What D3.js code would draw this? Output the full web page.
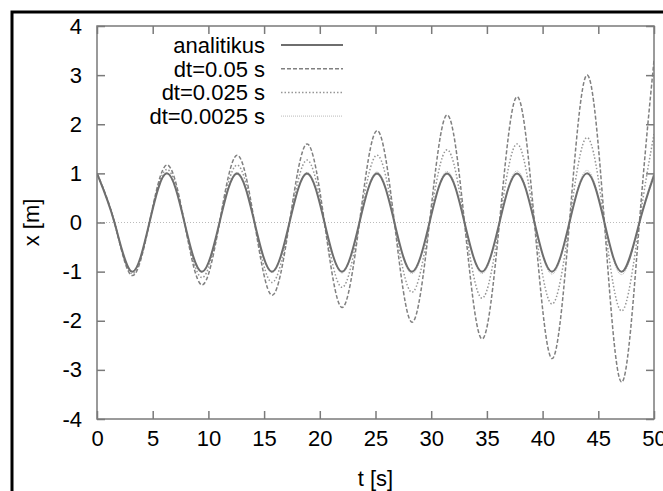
<!DOCTYPE html>
<html>
<head>
  <meta charset="utf-8">
  <title>Harmonikus oszcillator: analitikus es Euler megoldas</title>
  <script src="https://d3js.org/d3.v7.min.js"></script>
  <style>
    body { margin: 0; background: #fff; }
    text { font-family: "Liberation Sans", Arial, sans-serif; fill: #000; }
  </style>
</head>
<body>
  <script type="text/javascript">

    // Time points: extrema and zero crossings, plus the right edge
    var tValues = [0, 1.57, 3.14, 4.71, 6.28, 7.85, 9.42, 11.0, 12.57, 14.14, 15.71,
      17.28, 18.85, 20.42, 21.99, 23.56, 25.13, 26.7, 28.27, 29.85, 31.42, 32.99,
      34.56, 36.13, 37.7, 39.27, 40.84, 42.41, 43.98, 45.55, 47.12, 48.69, 50];

    // x [m] values at those times, one array per curve
    var analitikus = [1, 0, -1, 0, 1, 0, -1, 0, 1, 0, -1, 0, 1, 0, -1, 0, 1, 0,
      -1, 0, 1, 0, -1, 0, 1, 0, -1, 0, 1, 0, -1, 0, 0.96];
    var dt005 = [1, 0, -1.08, 0, 1.17, 0, -1.27, 0, 1.37, 0, -1.48, 0, 1.6, 0,
      -1.73, 0, 1.87, 0, -2.03, 0, 2.19, 0, -2.37, 0, 2.56, 0, -2.77, 0, 3.0, 0,
      -3.25, 0, 3.3];
    var dt0025 = [1, 0, -1.04, 0, 1.08, 0, -1.12, 0, 1.17, 0, -1.22, 0, 1.27, 0,
      -1.32, 0, 1.37, 0, -1.42, 0, 1.48, 0, -1.54, 0, 1.6, 0, -1.66, 0, 1.73, 0,
      -1.8, 0, 1.8];
    var dt00025 = [1, 0, -1.0, 0, 1.01, 0, -1.01, 0, 1.02, 0, -1.02, 0, 1.02, 0,
      -1.03, 0, 1.03, 0, -1.04, 0, 1.04, 0, -1.04, 0, 1.05, 0, -1.05, 0, 1.06, 0,
      -1.06, 0, 1.02];

    var seriesNames = ["analitikus", "dt=0.05 s", "dt=0.025 s", "dt=0.0025 s"];
    var seriesValues = [analitikus, dt005, dt0025, dt00025];

    var xTicks = [0, 5, 10, 15, 20, 25, 30, 35, 40, 45, 50];
    var yTicks = [-4, -3, -2, -1, 0, 1, 2, 3, 4];

    // line style for each curve (gnuplot-like greys)
    var styles = [
      { stroke: "#6e6e6e", width: 2, dash: null },
      { stroke: "#808080", width: 1.5, dash: "4,2" },
      { stroke: "#969696", width: 1.5, dash: "1.5,2" },
      { stroke: "#bbb", width: 1, dash: "1,1" }
    ];

    var W = 663, H = 491;
    // plot box (note: "top" is reserved on window, so prefix these)
    var pLeft = 97, pRight = 654, pTop = 26, pBottom = 419;
    var fontSize = "22px";

    var svg = d3.select("body").append("svg")
      .attr("width", W)
      .attr("height", H);

    var x = d3.scaleLinear().domain([0, 50]).range([pLeft, pRight]);
    var y = d3.scaleLinear().domain([-4, 4]).range([pBottom, pTop]);

    // black border of the scanned figure
    svg.append("path")
      .attr("d", "M12," + H + "V12H" + W)
      .attr("fill", "none")
      .attr("stroke", "#000")
      .attr("stroke-width", 3);

    svg.append("clipPath").attr("id", "plotclip")
      .append("rect")
      .attr("x", pLeft).attr("y", pTop)
      .attr("width", pRight - pLeft).attr("height", pBottom - pTop);

    // zero axis
    svg.append("line")
      .attr("x1", pLeft).attr("x2", pRight)
      .attr("y1", y(0)).attr("y2", y(0))
      .attr("stroke", "#bbb")
      .attr("stroke-width", 1)
      .attr("stroke-dasharray", "1,2");

    // curves
    var line = d3.line()
      .x(function (d) { return x(d[0]); })
      .y(function (d) { return y(d[1]); })
      .curve(d3.curveNatural);

    var plot = svg.append("g").attr("clip-path", "url(#plotclip)");
    // draw in reverse so the analytic solution is on top
    for (var i = seriesValues.length - 1; i >= 0; i--) {
      var pts = tValues.map(function (t, j) { return [t, seriesValues[i][j]]; });
      plot.append("path")
        .attr("d", line(pts))
        .attr("fill", "none")
        .attr("stroke", styles[i].stroke)
        .attr("stroke-width", styles[i].width)
        .attr("stroke-dasharray", styles[i].dash);
    }

    // frame with mirrored inward ticks
    var frameColor = "#7a7a7a";
    var tickLen = 8;
    // plain hyphen for negatives, like gnuplot
    var fmt = function (d) { return String(d); };

    svg.append("g")
      .attr("transform", "translate(0," + pBottom + ")")
      .call(d3.axisBottom(x).tickValues(xTicks).tickFormat(fmt).tickSizeInner(-tickLen).tickSizeOuter(0).tickPadding(11))
      .call(styleAxis);
    svg.append("g")
      .attr("transform", "translate(0," + pTop + ")")
      .call(d3.axisTop(x).tickValues(xTicks).tickSizeInner(-tickLen).tickSizeOuter(0).tickFormat(""))
      .call(styleAxis);
    svg.append("g")
      .attr("transform", "translate(" + pLeft + ",0)")
      .call(d3.axisLeft(y).tickValues(yTicks).tickFormat(fmt).tickSizeInner(-tickLen).tickSizeOuter(0).tickPadding(15))
      .call(styleAxis);
    svg.append("g")
      .attr("transform", "translate(" + pRight + ",0)")
      .call(d3.axisRight(y).tickValues(yTicks).tickSizeInner(-tickLen).tickSizeOuter(0).tickFormat(""))
      .call(styleAxis);

    svg.append("rect")
      .attr("x", pLeft).attr("y", pTop)
      .attr("width", pRight - pLeft).attr("height", pBottom - pTop)
      .attr("fill", "none")
      .attr("stroke", frameColor)
      .attr("stroke-width", 1.5);

    function styleAxis(g) {
      g.select(".domain").remove();
      g.selectAll(".tick line").attr("stroke", frameColor).attr("stroke-width", 1.5);
      g.selectAll(".tick text")
        .attr("fill", "#000")
        .style("font-size", fontSize)
        .style("font-family", "'Liberation Sans', Arial, sans-serif");
    }

    // axis titles
    svg.append("text")
      .attr("x", (pLeft + pRight) / 2)
      .attr("y", 486)
      .attr("text-anchor", "middle")
      .style("font-size", fontSize)
      .text("t [s]");

    svg.append("text")
      .attr("transform", "translate(39," + y(0) + ") rotate(-90)")
      .attr("text-anchor", "middle")
      .style("font-size", fontSize)
      .text("x [m]");

    // legend
    var legend = svg.append("g");
    seriesNames.forEach(function (name, i) {
      var ly = 45 + i * 23.7;
      legend.append("text")
        .attr("x", 265)
        .attr("y", ly + 8)
        .attr("text-anchor", "end")
        .style("font-size", fontSize)
        .text(name);
      legend.append("line")
        .attr("x1", 281).attr("x2", 343)
        .attr("y1", ly).attr("y2", ly)
        .attr("stroke", styles[i].stroke)
        .attr("stroke-width", styles[i].width)
        .attr("stroke-dasharray", styles[i].dash);
    });
  </script>
</body>
</html>
